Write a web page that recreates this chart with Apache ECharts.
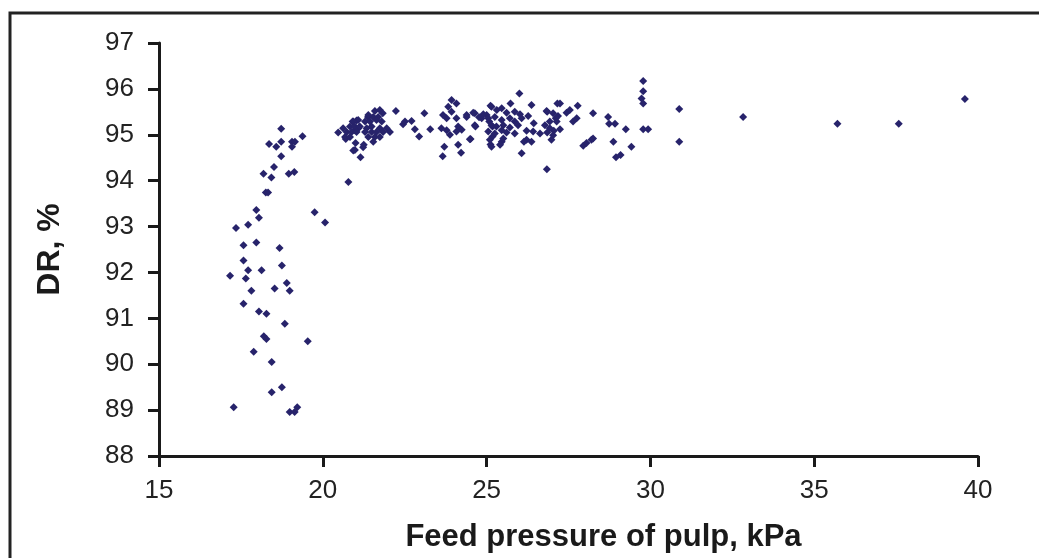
<!DOCTYPE html>
<html>
<head>
<meta charset="utf-8">
<script src="https://cdn.jsdelivr.net/npm/echarts@6/dist/echarts.min.js"></script>
<style>
html,body{margin:0;padding:0;background:#fff;}
#chart{width:1039px;height:558px;}
</style>
</head>
<body>
<div id="chart"></div>
<script>
// Feed pressure of pulp (kPa)
const pressure = [
17.28,18.99,19.14,19.22,18.44,18.75,17.89,18.44,18.20,18.28,19.54,18.84,18.05,18.28,17.58,17.82,18.53,18.99,18.90,17.17,
17.65,17.72,18.13,18.75,17.58,17.58,17.97,18.68,17.35,17.72,17.97,18.05,19.75,20.07,18.26,18.33,18.19,18.43,18.96,19.13,
18.51,18.73,18.36,18.58,18.73,19.06,19.15,19.06,18.73,19.38,
20.47,20.70,20.78,20.91,21.03,20.83,20.96,21.09,21.00,20.93,21.15,21.23,21.38,
21.59,21.74,21.83,21.39,21.54,21.69,21.29,21.44,21.64,21.80,21.08,20.93,20.98,21.13,21.34,21.49,21.74,21.95,20.62,
20.73,20.88,21.03,21.29,21.49,21.64,21.84,22.05,20.68,20.83,21.39,21.59,21.74,21.25,21.54,20.98,
22.23,22.45,22.51,22.71,22.81,22.94,23.10,23.28,
23.66,23.71,23.78,23.93,24.08,23.83,23.67,23.62,23.78,23.88,24.13,24.22,24.39,24.64,24.66,24.51,24.85,25.00,25.15,25.08,25.18,25.12,25.18,
24.59,24.39,24.77,24.90,25.31,25.46,25.61,25.86,26.02,26.85,27.03,25.05,25.25,25.46,25.71,25.86,26.07,26.27,
24.64,25.15,25.30,25.51,25.71,25.96,26.44,26.78,26.93,27.14,25.05,25.25,25.46,25.61,25.86,26.22,26.42,26.63,26.85,27.05,
24.49,25.10,25.46,26.22,26.37,25.15,25.41,26.07,26.00,25.73,25.12,26.37,27.16,
23.93,24.08,24.13,24.24,24.08,25.51,26.14,
26.84,26.83,27.24,26.93,27.03,26.98,27.11,27.18,27.24,27.44,27.54,27.64,27.75,27.78,27.95,28.05,28.20,28.25,28.25,
28.71,28.74,28.92,28.87,28.95,29.09,29.25,29.42,29.78,29.78,29.73,29.78,29.78,29.93,
30.88,30.88,32.83,35.71,37.58,39.60
];
// DR (%)
const drPercent = [
89.06,88.96,88.96,89.06,89.39,89.50,90.27,90.05,90.61,90.55,90.50,90.88,91.15,91.10,91.32,91.60,91.65,91.60,91.77,91.93,
91.87,92.05,92.05,92.15,92.26,92.59,92.65,92.53,92.97,93.04,93.36,93.19,93.31,93.09,93.74,93.74,94.15,94.07,94.15,94.19,
94.30,94.53,94.80,94.74,94.85,94.85,94.85,94.74,95.13,94.97,
95.05,94.91,93.97,95.29,95.31,95.18,95.10,95.14,94.82,94.66,94.51,94.73,95.39,
95.52,95.54,95.47,95.43,95.39,95.39,95.29,95.29,95.32,95.29,95.32,95.29,95.18,95.18,95.14,95.18,95.14,95.14,95.14,
95.06,95.06,95.06,95.06,95.06,95.06,95.06,95.06,94.95,94.95,94.95,94.95,94.95,94.78,94.85,94.67,
95.52,95.23,95.29,95.30,95.12,94.96,95.47,95.12,
94.53,94.74,95.36,95.76,95.68,95.61,95.43,95.14,95.10,95.00,94.78,94.61,95.39,95.47,95.18,94.91,95.36,95.43,95.61,95.29,95.18,94.79,94.96,
95.48,95.43,95.38,95.45,95.54,95.58,95.48,95.50,95.45,95.50,95.47,95.36,95.39,95.32,95.36,95.29,95.36,95.41,
95.21,95.21,95.18,95.21,95.16,95.21,95.25,95.21,95.29,95.29,95.07,95.03,95.10,95.05,95.03,95.09,95.07,95.03,95.05,95.09,
94.90,94.89,94.85,94.89,94.85,94.74,94.78,94.60,95.90,95.68,95.63,95.65,95.68,
95.50,95.36,95.18,95.11,95.07,94.92,94.85,
94.25,95.52,95.68,95.14,94.99,94.89,95.36,95.41,95.12,95.48,95.54,95.29,95.36,95.63,94.76,94.82,94.89,94.92,95.47,
95.39,95.24,95.24,94.85,94.51,94.56,95.12,94.74,96.17,95.95,95.79,95.68,95.12,95.12,
95.56,94.85,95.39,95.24,95.24,95.78
];
const xTicks = [15, 20, 25, 30, 35, 40];
const yTicks = [88, 89, 90, 91, 92, 93, 94, 95, 96, 97];

const points = pressure.map((x, i) => [x, drPercent[i]]);

const chart = echarts.init(document.getElementById('chart'), null, {renderer: 'canvas'});
const fontFam = '"Liberation Sans", Arial, sans-serif';
chart.setOption({
  animation: false,
  backgroundColor: '#fff',
  graphic: [{
    type: 'rect',
    shape: {x: 10, y: 13, width: 1200, height: 800},
    style: {fill: 'none', stroke: '#222', lineWidth: 3},
    silent: true
  }],
  grid: {left: 159, top: 43, right: 61, bottom: 101, containLabel: false},
  xAxis: {
    type: 'value',
    min: xTicks[0], max: xTicks[xTicks.length - 1], interval: 5,
    name: 'Feed pressure of pulp, kPa',
    nameLocation: 'middle',
    nameGap: 66,
    nameTextStyle: {fontFamily: fontFam, fontWeight: 'bold', fontSize: 31, color: '#1a1a1a', padding: [0, 0, 0, 70]},
    axisLine: {show: true, onZero: false, lineStyle: {color: '#1a1a1a', width: 3}},
    axisTick: {show: true, inside: false, length: 11, lineStyle: {color: '#1a1a1a', width: 3}},
    axisLabel: {fontFamily: fontFam, fontSize: 26, color: '#222', margin: 22},
    splitLine: {show: false}
  },
  yAxis: {
    type: 'value',
    min: yTicks[0], max: yTicks[yTicks.length - 1], interval: 1,
    name: 'DR, %',
    nameLocation: 'middle',
    nameGap: 93,
    nameRotate: 90,
    nameTextStyle: {fontFamily: fontFam, fontWeight: 'bold', fontSize: 32, color: '#1a1a1a'},
    axisLine: {show: true, onZero: false, lineStyle: {color: '#1a1a1a', width: 3}},
    axisTick: {show: true, inside: false, length: 11, lineStyle: {color: '#1a1a1a', width: 3}},
    axisLabel: {fontFamily: fontFam, fontSize: 26, color: '#222', margin: 25},
    splitLine: {show: false}
  },
  series: [{
    type: 'scatter',
    data: points,
    symbol: 'diamond',
    symbolSize: 8,
    itemStyle: {color: '#27236b', opacity: 1}
  }]
});
</script>
</body>
</html>
